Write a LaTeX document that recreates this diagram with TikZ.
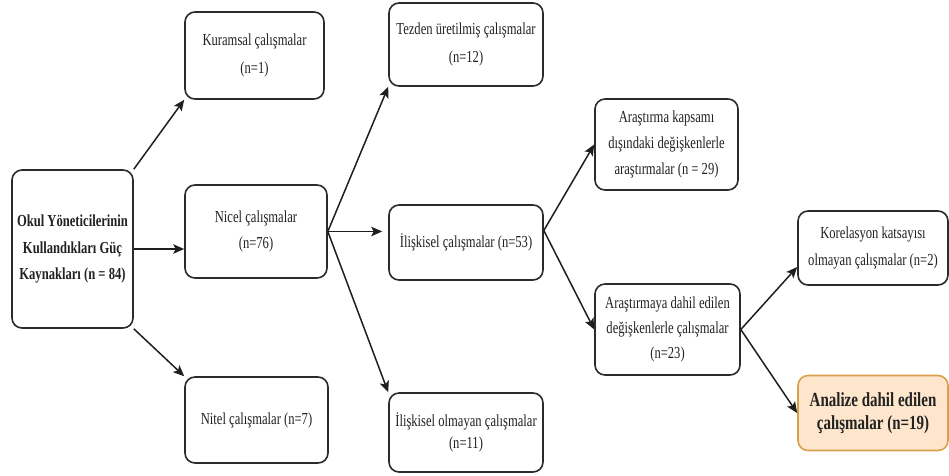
\documentclass[tikz,border=0pt]{standalone}
\usepackage{fontspec}
\setmainfont{Liberation Serif}[FakeStretch=0.75]
\usetikzlibrary{arrows.meta,calc}
\definecolor{boxline}{HTML}{2B2B2B}
\definecolor{txt}{HTML}{222222}
\definecolor{hlfill}{HTML}{FDE6CB}
\definecolor{hlline}{HTML}{D9A04C}
\begin{document}
\begin{tikzpicture}[x=1pt,y=-1pt,
  box/.style={draw=boxline, line width=1.6pt, rounded corners=10pt, fill=white,
    align=center, inner sep=0pt, text=txt},
  hlbox/.style={box, draw=hlline, fill=hlfill},
  arr/.style={draw=black!88, line width=1.5pt, -{Stealth[length=11pt,width=9.5pt,inset=2.5pt]}}]
\useasboundingbox (0,0) rectangle (949,475);

\node[box, minimum width=121pt, minimum height=158pt, font=\bfseries\fontsize{16.8}{26.5}\selectfont] (A) at (72.5,249)
  {Okul Yöneticilerinin\\Kullandıkları Güç\\Kaynakları (n = 84)};

\node[box, minimum width=139pt, minimum height=87pt, font=\fontsize{16.8}{28}\selectfont] (K) at (254.5,55.5)
  {Kuramsal çalışmalar\\(n=1)};
\node[box, minimum width=142pt, minimum height=93pt, font=\fontsize{16.8}{26}\selectfont] (N) at (256,231.5)
  {Nicel çalışmalar\\(n=76)};
\node[box, minimum width=143pt, minimum height=86pt, font=\fontsize{16.8}{26}\selectfont] (T) at (256.5,420)
  {Nitel çalışmalar (n=7)};

\node[box, minimum width=154pt, minimum height=83pt, font=\fontsize{16.8}{28}\selectfont] (Z) at (466,44.5)
  {Tezden üretilmiş çalışmalar\\(n=12)};
\node[box, minimum width=154pt, minimum height=75pt, font=\fontsize{16.8}{26}\selectfont] (I) at (466,242.5)
  {İlişkisel çalışmalar (n=53)};
\node[box, minimum width=154pt, minimum height=79pt, font=\fontsize{16.8}{22}\selectfont] (O) at (466,432.5)
  {İlişkisel olmayan çalışmalar\\(n=11)};

\node[box, minimum width=143pt, minimum height=91pt, font=\fontsize{16.8}{26}\selectfont] (R1) at (666.5,144.5)
  {Araştırma kapsamı\\dışındaki değişkenlerle\\araştırmalar (n = 29)};
\node[box, minimum width=145pt, minimum height=91pt, font=\fontsize{16.8}{25}\selectfont] (R2) at (667.5,329.5)
  {Araştırmaya dahil edilen\\değişkenlerle çalışmalar\\(n=23)};

\node[box, minimum width=150pt, minimum height=74pt, font=\fontsize{16.8}{27}\selectfont] (C) at (873,248)
  {Korelasyon katsayısı\\olmayan çalışmalar (n=2)};
\node[hlbox, minimum width=150pt, minimum height=75pt, font=\bfseries\fontsize{20}{23}\selectfont] (F) at (873,413)
  {Analize dahil edilen\\çalışmalar (n=19)};

\coordinate (Ib) at ($(I.east)+(0,-12)$);
\coordinate (Cin) at ($(C.west)+(0,19)$);

\draw[arr] (A.north east) -- (K.south west);
\draw[arr] (A.east) -- (N.west |- A.east);
\draw[arr] (A.south east) -- (T.north west);

\draw[arr] (N.east) -- (Z.south west);
\draw[arr, shorten >=6pt] (N.east) -- (I.west |- N.east);
\draw[arr] (N.east) -- (O.north west);

\draw[arr] (Ib) -- (R1.west);
\draw[arr] (Ib) -- (R2.west);

\draw[arr] (R2.east) -- (Cin);
\draw[arr] (R2.east) -- (F.west);
\end{tikzpicture}
\end{document}
